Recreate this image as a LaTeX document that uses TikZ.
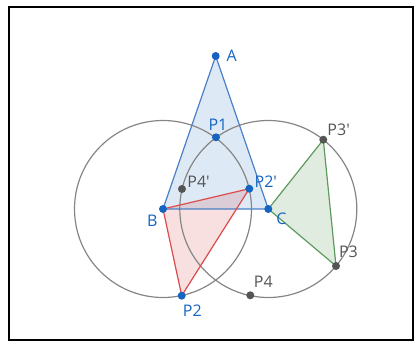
\documentclass[tikz,border=0pt]{standalone}
\usepackage{fontspec}
\setmainfont{Open Sans}
\usepackage{tikz}
\usetikzlibrary{calc,positioning,backgrounds}
\definecolor{ptblue}{HTML}{1565C0}
\definecolor{ptgray}{HTML}{555555}
\definecolor{circgray}{HTML}{858585}
\definecolor{triblue}{HTML}{4A80C8}
\definecolor{trired}{HTML}{DC4A4A}
\definecolor{trigreen}{HTML}{5E9A5E}

\tikzset{
  bpt/.style={circle, fill=ptblue, inner sep=0pt, minimum size=8pt},
  gpt/.style={circle, fill=ptgray, inner sep=0pt, minimum size=8pt},
  blab/.style={text=ptblue, inner sep=1pt, label distance=0pt,
    font=\fontsize{16}{18}\selectfont},
  glab/.style={text=ptgray, inner sep=1pt, label distance=0pt,
    font=\fontsize{16}{18}\selectfont},
  circ/.style={draw=circgray, line width=1.2pt}
}

\begin{document}
\begin{tikzpicture}[x=1pt,y=-1pt]
  \useasboundingbox (0,0) rectangle (418,345);
  \draw[line width=2pt] (9,7) rectangle (413,340);

  % points
  \node[bpt, label={[blab,label distance=5.5pt]right:A}] (A) at (215.7,56) {};
  \node[bpt, label={[blab,xshift=2pt,label distance=1pt]above:P1}] (P1) at (216,137.3) {};
  \node[bpt, label={[blab,anchor=north east,label distance=2pt]225:B}] (B) at (163,209) {};
  \node[bpt, label={[blab,anchor=north west,label distance=3pt]-20:C}] (C) at (268.3,209) {};
  \node[bpt, label={[blab,anchor=north west,label distance=4pt]below:P2}] (P2) at (181.7,295.7) {};
  \node[bpt, label={[blab,anchor=south west]right:P2\textquotesingle}] (P2r) at (249.3,188.7) {};
  \node[gpt, label={[glab,anchor=south west]45:P3\textquotesingle}] (P3r) at (323.3,139.7) {};
  \node[gpt, label={[glab,anchor=south west,label distance=3pt]75:P3}] (P3) at (336,266) {};
  \node[gpt, label={[glab,anchor=south west,label distance=3pt]70:P4}] (P4) at (250.3,295.3) {};
  \node[gpt, label={[glab,anchor=south west]right:P4\textquotesingle}] (P4r) at (182,189) {};

  \begin{pgfonlayer}{background}
    % triangles
    \fill[ptblue, fill opacity=0.14] (A.center) -- (B.center) -- (C.center) -- cycle;
    \fill[red!80!black, fill opacity=0.12] (B.center) -- (P2.center) -- (P2r.center) -- cycle;
    \fill[green!40!black, fill opacity=0.12] (C.center) -- (P3.center) -- (P3r.center) -- cycle;
    % circles
    \draw[circ] (B.center) circle[radius=88.5];
    \draw[circ] (C.center) circle[radius=88.5];
    \draw[triblue, line width=1.2pt] (A.center) -- (B.center) -- (C.center) -- cycle;
    \draw[trired, line width=1.2pt] (B.center) -- (P2.center) -- (P2r.center) -- cycle;
    \draw[trigreen, line width=1.2pt] (C.center) -- (P3.center) -- (P3r.center) -- cycle;
  \end{pgfonlayer}
\end{tikzpicture}
\end{document}
